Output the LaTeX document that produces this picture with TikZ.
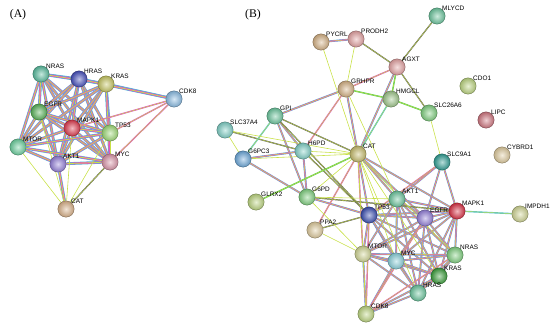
\documentclass[tikz,border=0pt]{standalone}
\usepackage{fontspec}
\setmainfont{Liberation Serif}
\setsansfont{Liberation Sans}
\usetikzlibrary{shadings,backgrounds}
\definecolor{txtm}{RGB}{200,225,70}
\definecolor{exmag}{RGB}{225,80,200}
\definecolor{dbcyan}{RGB}{70,190,220}
\definecolor{coblk}{RGB}{90,90,90}
\definecolor{nbgrn}{RGB}{80,200,80}
% panel A
\definecolor{aNRAS}{RGB}{90,190,160}
\definecolor{aHRAS}{RGB}{70,80,190}
\definecolor{aKRAS}{RGB}{200,200,100}
\definecolor{aCDK8}{RGB}{140,190,230}
\definecolor{aEGFR}{RGB}{90,180,90}
\definecolor{aMAPK}{RGB}{225,60,80}
\definecolor{aTP53}{RGB}{160,220,120}
\definecolor{aMTOR}{RGB}{110,210,160}
\definecolor{aAKT}{RGB}{150,130,220}
\definecolor{aMYC}{RGB}{220,150,170}
\definecolor{aCAT}{RGB}{220,180,140}
% panel B
\definecolor{bTan}{RGB}{215,180,135}
\definecolor{bPink}{RGB}{230,165,165}
\definecolor{bTeal}{RGB}{110,200,160}
\definecolor{bSage}{RGB}{160,200,140}
\definecolor{bLime}{RGB}{190,215,130}
\definecolor{bGreen}{RGB}{130,210,130}
\definecolor{bRose}{RGB}{210,120,130}
\definecolor{bSand}{RGB}{225,205,160}
\definecolor{bAqua}{RGB}{130,210,200}
\definecolor{bOlive}{RGB}{200,190,110}
\definecolor{bBlue}{RGB}{110,170,220}
\definecolor{bNavy}{RGB}{60,80,180}
\definecolor{bPurple}{RGB}{150,130,220}
\definecolor{bRed}{RGB}{220,50,70}
\definecolor{bDkTeal}{RGB}{50,160,150}
\definecolor{bPale}{RGB}{210,215,150}
\definecolor{bSky}{RGB}{140,210,220}
\definecolor{bKras}{RGB}{60,160,60}

\tikzset{
  gene/.style={circle,inner color=#1!35!white,outer color=#1!85!black,
    draw=#1!55!black,line width=0.3pt,minimum size=0.49cm,inner sep=0pt},
  lbl/.style={font=\sffamily\fontsize{5.5}{6}\selectfont,inner sep=0.3pt,
    label distance=-1.5pt},
  tm/.style={draw=txtm,line width=0.5pt},
  tk/.style={draw=coblk,line width=0.35pt,double=txtm,double distance=0.35pt},
  mg/.style={draw=exmag,line width=0.4pt,double=txtm,double distance=0.4pt},
  gn/.style={draw=nbgrn,line width=0.4pt,double=txtm,double distance=0.4pt},
  cy/.style={draw=dbcyan,line width=0.4pt,double=txtm,double distance=0.4pt},
  mx/.style={draw=exmag,line width=0.35pt,double=txtm,double distance=0.4pt,
    preaction={draw=dbcyan,line width=1.6pt}},
  mxa/.style={draw=exmag,line width=0.5pt,double=txtm,double distance=0.6pt,
    preaction={draw=dbcyan,line width=2.4pt}},
}

\begin{document}
\begin{tikzpicture}[x=0.03cm,y=-0.03cm]
\useasboundingbox (0,0) rectangle (550,328);

\node[font=\fontsize{10}{12}\selectfont] (A-title) at (18,15) {(A)};
\node[font=\fontsize{10}{12}\selectfont] (B-title) at (253,15) {(B)};

% ---- panel A ----
\node[gene=aNRAS,label={[lbl]45:NRAS}] (A-nras) at (41,74) {};
\node[gene=aHRAS,label={[lbl]45:HRAS}] (A-hras) at (79,79) {};
\node[gene=aKRAS,label={[lbl]45:KRAS}] (A-kras) at (106,84) {};
\node[gene=aCDK8,label={[lbl]45:CDK8}] (A-cdk8) at (174,99) {};
\node[gene=aEGFR,label={[lbl]45:EGFR}] (A-egfr) at (39,112) {};
\node[gene=aMAPK,label={[lbl]45:MAPK1}] (A-mapk1) at (72,128) {};
\node[gene=aTP53,label={[lbl]45:TP53}] (A-tp53) at (110,133) {};
\node[gene=aMTOR,label={[lbl]45:MTOR}] (A-mtor) at (18,147) {};
\node[gene=aAKT,label={[lbl]45:AKT1}] (A-akt1) at (58,164) {};
\node[gene=aMYC,label={[lbl]45:MYC}] (A-myc) at (110,162) {};
\node[gene=aCAT,label={[lbl]45:CAT}] (A-cat) at (66,209) {};

\begin{scope}[on background layer]
\foreach \u [count=\i] in {nras,hras,kras,egfr,mapk1,tp53,mtor,akt1,myc}
  \foreach \v [count=\j] in {nras,hras,kras,egfr,mapk1,tp53,mtor,akt1,myc}
    {\ifnum\j>\i \draw[mxa] (A-\u) -- (A-\v); \fi}
\foreach \v in {kras,hras} \draw[mxa] (A-cdk8) -- (A-\v);
\foreach \v in {tp53,mapk1,myc} \draw[mg] (A-cdk8) -- (A-\v);
\draw[mxa] (A-cat) -- (A-akt1);
\draw[tk] (A-cat) -- (A-myc);
\foreach \v in {mtor,tp53,mapk1,egfr} \draw[tm] (A-cat) -- (A-\v);
\end{scope}

% ---- panel B ----
\node[gene=bTan,label={[lbl]45:PYCRL}] (B-pycrl) at (321,42) {};
\node[gene=bPink,label={[lbl]45:PRODH2}] (B-prodh2) at (356,39) {};
\node[gene=bTeal,label={[lbl]45:MLYCD}] (B-mlycd) at (437,16) {};
\node[gene=bPink,label={[lbl]45:AGXT}] (B-agxt) at (397,67) {};
\node[gene=bTan,label={[lbl]45:GRHPR}] (B-grhpr) at (346,89) {};
\node[gene=bSage,label={[lbl]45:HMGCL}] (B-hmgcl) at (391,99) {};
\node[gene=bLime,label={[lbl]45:CDO1}] (B-cdo1) at (468,86) {};
\node[gene=bGreen,label={[lbl]45:SLC26A6}] (B-slc26a6) at (429,113) {};
\node[gene=bRose,label={[lbl]45:LIPC}] (B-lipc) at (486,120) {};
\node[gene=bTeal,label={[lbl]45:GPI}] (B-gpi) at (275,116) {};
\node[gene=bAqua,label={[lbl]45:SLC37A4}] (B-slc37a4) at (225,130) {};
\node[gene=bAqua,label={[lbl]45:H6PD}] (B-h6pd) at (303,151) {};
\node[gene=bOlive,label={[lbl]45:CAT}] (B-cat) at (358,154) {};
\node[gene=bBlue,label={[lbl]45:G6PC3}] (B-g6pc3) at (243,159) {};
\node[gene=bSand,label={[lbl]45:CYBRD1}] (B-cybrd1) at (502,155) {};
\node[gene=bDkTeal,label={[lbl]45:SLC9A1}] (B-slc9a1) at (442,162) {};
\node[gene=bGreen,label={[lbl]45:G6PD}] (B-g6pd) at (307,197) {};
\node[gene=bTeal,label={[lbl]45:AKT1}] (B-akt1) at (397,199) {};
\node[gene=bLime,label={[lbl]45:GLRX2}] (B-glrx2) at (256,202) {};
\node[gene=bRed,label={[lbl]45:MAPK1}] (B-mapk1) at (457,211) {};
\node[gene=bPale,label={[lbl]45:IMPDH1}] (B-impdh1) at (520,214) {};
\node[gene=bNavy,label={[lbl]45:TP53}] (B-tp53) at (369,215) {};
\node[gene=bPurple,label={[lbl]45:EGFR}] (B-egfr) at (425,218) {};
\node[gene=bSand,label={[lbl]45:PPA2}] (B-ppa2) at (315,230) {};
\node[gene=bPale,label={[lbl]45:MTOR}] (B-mtor) at (363,254) {};
\node[gene=bGreen,label={[lbl]45:NRAS}] (B-nras) at (455,255) {};
\node[gene=bSky,label={[lbl]45:MYC}] (B-myc) at (396,261) {};
\node[gene=bKras,label={[lbl]45:KRAS}] (B-kras) at (439,276) {};
\node[gene=bTeal,label={[lbl]45:HRAS}] (B-hras) at (418,293) {};
\node[gene=bLime,label={[lbl]45:CDK8}] (B-cdk8) at (366,314) {};

\begin{scope}[on background layer]
\foreach \u [count=\i] in {tp53,akt1,egfr,mapk1,mtor,myc,nras,kras,hras}
  \foreach \v [count=\j] in {tp53,akt1,egfr,mapk1,mtor,myc,nras,kras,hras}
    {\ifnum\j>\i \draw[mx] (B-\u) -- (B-\v); \fi}
\foreach \v in {hras,kras,mtor,myc} \draw[mx] (B-cdk8) -- (B-\v);
\foreach \v in {tp53,egfr,nras} \draw[mg] (B-cdk8) -- (B-\v);
\foreach \u/\v in {pycrl/prodh2,agxt/cat,grhpr/gpi,grhpr/cat,gpi/g6pd,gpi/h6pd,
    g6pc3/h6pd,g6pc3/g6pd,h6pd/g6pd,g6pd/tp53,slc9a1/akt1,slc9a1/mapk1,
    slc9a1/egfr,cat/akt1,cat/tp53,cat/egfr,cat/mapk1}
  \draw[mx] (B-\u) -- (B-\v);
\foreach \u/\v in {grhpr/h6pd,ppa2/cat,slc9a1/tp53,cat/mtor,agxt/grhpr}
  \draw[mg] (B-\u) -- (B-\v);
\foreach \u/\v in {prodh2/agxt,agxt/mlycd,agxt/slc26a6,slc37a4/h6pd,gpi/cat,
    h6pd/tp53,g6pd/mapk1,ppa2/tp53,gpi/tp53}
  \draw[tk] (B-\u) -- (B-\v);
\foreach \u/\v in {hmgcl/slc26a6,grhpr/hmgcl,agxt/hmgcl,glrx2/cat}
  \draw[gn] (B-\u) -- (B-\v);
\foreach \u/\v in {mapk1/impdh1,gpi/g6pc3,hmgcl/cat}
  \draw[cy] (B-\u) -- (B-\v);
\foreach \u/\v in {pycrl/cat,prodh2/grhpr,slc26a6/slc9a1,slc37a4/g6pc3,
    slc37a4/cat,g6pc3/cat,g6pd/cat,g6pd/mtor,g6pd/akt1,h6pd/cat,cat/myc,
    cat/hras,cat/cdk8,cat/kras,cat/nras,ppa2/mtor,grhpr/akt1}
  \draw[tm] (B-\u) -- (B-\v);
\end{scope}
\end{tikzpicture}
\end{document}
